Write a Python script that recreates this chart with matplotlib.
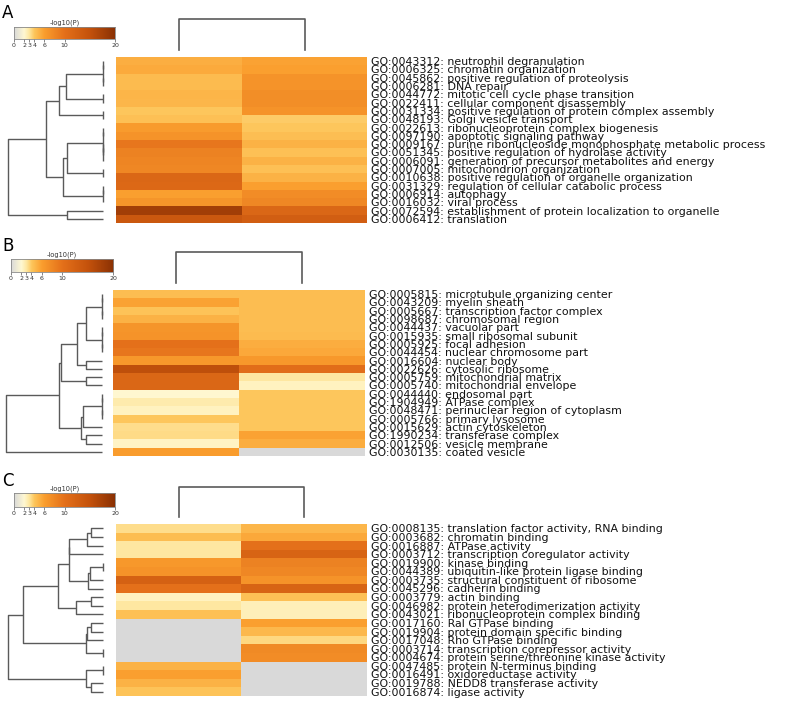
import matplotlib
matplotlib.use("Agg")
import matplotlib.pyplot as plt
import numpy as np
from matplotlib.colors import LinearSegmentedColormap

# ---------------- data ----------------
labels_A = [
    "GO:0043312: neutrophil degranulation",
    "GO:0006325: chromatin organization",
    "GO:0045862: positive regulation of proteolysis",
    "GO:0006281: DNA repair",
    "GO:0044772: mitotic cell cycle phase transition",
    "GO:0022411: cellular component disassembly",
    "GO:0031334: positive regulation of protein complex assembly",
    "GO:0048193: Golgi vesicle transport",
    "GO:0022613: ribonucleoprotein complex biogenesis",
    "GO:0097190: apoptotic signaling pathway",
    "GO:0009167: purine ribonucleoside monophosphate metabolic process",
    "GO:0051345: positive regulation of hydrolase activity",
    "GO:0006091: generation of precursor metabolites and energy",
    "GO:0007005: mitochondrion organization",
    "GO:0010638: positive regulation of organelle organization",
    "GO:0031329: regulation of cellular catabolic process",
    "GO:0006914: autophagy",
    "GO:0016032: viral process",
    "GO:0072594: establishment of protein localization to organelle",
    "GO:0006412: translation",
]
left_A = [5.2, 5.4, 4.6, 4.6, 4.9, 4.8, 4.0, 4.3, 6.3, 7.0,
          9.5, 8.5, 8.2, 8.0, 11.5, 11.3, 6.0, 6.8, 18.0, 14.0]
right_A = [5.8, 6.0, 7.0, 7.0, 7.4, 7.4, 7.0, 3.9, 4.0, 4.4,
           5.0, 4.3, 5.0, 4.3, 5.0, 6.0, 7.5, 8.0, 11.5, 13.0]

labels_B = [
    "GO:0005815: microtubule organizing center",
    "GO:0043209: myelin sheath",
    "GO:0005667: transcription factor complex",
    "GO:0098687: chromosomal region",
    "GO:0044437: vacuolar part",
    "GO:0015935: small ribosomal subunit",
    "GO:0005925: focal adhesion",
    "GO:0044454: nuclear chromosome part",
    "GO:0016604: nuclear body",
    "GO:0022626: cytosolic ribosome",
    "GO:0005759: mitochondrial matrix",
    "GO:0005740: mitochondrial envelope",
    "GO:0044440: endosomal part",
    "GO:1904949: ATPase complex",
    "GO:0048471: perinuclear region of cytoplasm",
    "GO:0005766: primary lysosome",
    "GO:0015629: actin cytoskeleton",
    "GO:1990234: transferase complex",
    "GO:0012506: vesicle membrane",
    "GO:0030135: coated vesicle",
]
left_B = [4.5, 5.8, 4.2, 5.0, 6.8, 7.0, 10.0, 9.5, 6.5, 15.5,
          11.5, 11.5, 2.1, 2.8, 2.4, 4.0, 3.3, 3.4, 2.3, 6.2]
right_B = [4.5, 4.5, 4.5, 4.5, 4.5, 4.6, 5.3, 5.5, 6.5, 10.5,
           3.0, 2.4, 4.0, 4.0, 4.0, 4.0, 4.0, 5.8, 5.3, 0.0]

labels_C = [
    "GO:0008135: translation factor activity, RNA binding",
    "GO:0003682: chromatin binding",
    "GO:0016887: ATPase activity",
    "GO:0003712: transcription coregulator activity",
    "GO:0019900: kinase binding",
    "GO:0044389: ubiquitin-like protein ligase binding",
    "GO:0003735: structural constituent of ribosome",
    "GO:0045296: cadherin binding",
    "GO:0003779: actin binding",
    "GO:0046982: protein heterodimerization activity",
    "GO:0043021: ribonucleoprotein complex binding",
    "GO:0017160: Ral GTPase binding",
    "GO:0019904: protein domain specific binding",
    "GO:0017048: Rho GTPase binding",
    "GO:0003714: transcription corepressor activity",
    "GO:0004674: protein serine/threonine kinase activity",
    "GO:0047485: protein N-terminus binding",
    "GO:0016491: oxidoreductase activity",
    "GO:0019788: NEDD8 transferase activity",
    "GO:0016874: ligase activity",
]
left_C = [3.3, 4.5, 3.0, 3.0, 6.5, 7.0, 12.5, 10.0, 2.4, 3.0,
          4.3, 0.0, 0.0, 0.0, 0.0, 0.0, 5.0, 6.0, 5.0, 4.2]
right_C = [4.8, 5.5, 10.0, 12.0, 8.5, 8.0, 7.0, 12.0, 4.3, 2.5,
           2.5, 6.0, 4.7, 3.5, 7.8, 7.5, 0.0, 0.0, 0.0, 0.0]


def N(a, b, h):
    return (a, b, h)


# row dendrograms: leaf = row index, node = (left, right, merge height)
tree_A = N(
    N(
        N(N(N(N(0, 1, 0), N(2, 3, 0), 0), N(4, 5, 0), 37), N(6, 7, 0), 44),
        N(N(N(N(8, 9, 0), N(N(10, 11, 0), 12, 0), 0), N(13, 14, 0), 36),
          N(N(15, 16, 0), 17, 0), 40),
        57),
    N(18, 19, 36),
    95)

tree_B = N(
    N(
        N(N(N(N(N(0, 1, 0), N(2, 3, 0), 0), N(N(4, 5, 0), N(6, 7, 0), 0), 16),
            N(8, 9, 16), 25),
          N(10, 11, 16), 41),
        N(N(N(N(12, 13, 0), N(14, 15, 0), 0), 16, 19), N(17, 18, 16), 21),
        43),
    19,
    96)

tree_C = N(
    N(
        N(
            N(N(N(N(0, 1, 12), 2, 16), 3, 34),
              N(N(N(4, 5, 0), 6, 13), 7, 15), 34),
            N(N(8, 9, 12), 10, 27),
            45),
        N(N(N(11, 12, 12), 13, 16), N(14, 15, 0), 17),
        80),
    N(N(16, 17, 0), N(18, 19, 12), 17),
    95)

col_merge_height = 1.0

tick_vals = [0, 2, 3, 4, 6, 10, 20]

# ---------------- styling ----------------
W, H = 800, 701
fig = plt.figure(figsize=(W / 100, H / 100), dpi=100)
fig.patch.set_facecolor("white")

cmap = LinearSegmentedColormap.from_list(
    "metascape",
    [(0.00, "#d9d9d9"), (0.10, "#fff8d2"), (0.15, "#fee7a0"),
     (0.20, "#fdc65c"), (0.30, "#fa9e2e"), (0.50, "#e4701a"),
     (0.75, "#c4520c"), (1.00, "#8a3104")])

LINE = "#5a5a5a"


def add_px_axes(x0, y0, x1, y1):
    return fig.add_axes([x0 / W, 1 - y1 / H, (x1 - x0) / W, (y1 - y0) / H])


def tree_coords(node, segs):
    if isinstance(node, int):
        return node + 0.5, 0.0
    a, b, h = node
    ya, ha = tree_coords(a, segs)
    yb, hb = tree_coords(b, segs)
    segs.append(([ha, h, h, hb], [ya, ya, yb, yb]))
    return (ya + yb) / 2, h


def draw_panel(letter, labels, left, right, tree, hm, split, dend_x, topd, cb, letter_xy):
    n = len(labels)
    data = np.column_stack([left, right])
    # heatmap
    ax = add_px_axes(*hm)
    xe = np.array([0, (split - hm[0]) / (hm[2] - hm[0]), 1.0]) * 2
    ax.pcolormesh(xe, np.arange(n + 1), data, cmap=cmap, vmin=0, vmax=20,
                  shading="flat", edgecolors="none")
    ax.set_xlim(0, 2)
    ax.set_ylim(n, 0)
    ax.set_xticks([])
    ax.yaxis.tick_right()
    ax.set_yticks(np.arange(n) + 0.5)
    ax.set_yticklabels(labels, fontsize=7.9, color="#111111")
    ax.tick_params(axis="y", length=0, pad=3)
    for s in ax.spines.values():
        s.set_visible(False)

    # row dendrogram
    dax = add_px_axes(dend_x[0], hm[1], dend_x[1], hm[3])
    segs = []
    tree_coords(tree, segs)
    for xs, ys in segs:
        dax.plot(xs, ys, color=LINE, lw=1.0, solid_capstyle="butt", clip_on=False)
    dax.set_xlim(tree[2], 0)
    dax.set_ylim(n, 0)
    dax.axis("off")

    # column dendrogram
    tax = add_px_axes(hm[0], topd[0], hm[2], topd[1])
    c0 = (xe[0] + xe[1]) / 2
    c1 = (xe[1] + xe[2]) / 2
    tax.plot([c0, c0, c1, c1], [0, col_merge_height, col_merge_height, 0],
             color=LINE, lw=1.2, clip_on=False)
    tax.set_xlim(0, 2)
    tax.set_ylim(0, col_merge_height)
    tax.axis("off")

    # colorbar
    cax = add_px_axes(*cb)
    grad = np.linspace(0, 20, 256)[None, :]
    cax.imshow(grad, cmap=cmap, vmin=0, vmax=20, aspect="auto",
               extent=[0, 20, 0, 1])
    cax.set_xlim(0, 20)
    cax.set_yticks([])
    cax.set_xticks(tick_vals)
    cax.set_xticklabels([str(t) for t in tick_vals], fontsize=4.5, color="#333333")
    cax.tick_params(axis="x", length=2, width=0.5, pad=1, colors="#555555",
                    labelcolor="#333333")
    for s in cax.spines.values():
        s.set_edgecolor("#888888")
        s.set_linewidth(0.6)
    cax.set_title("-log10(P)", fontsize=4.8, pad=1.5, color="#333333")

    fig.text(letter_xy[0] / W, 1 - letter_xy[1] / H, letter, fontsize=12,
             ha="left", va="top", color="black")


draw_panel("A", labels_A, left_A, right_A, tree_A,
           hm=(116, 57, 367, 223), split=242, dend_x=(8, 103),
           topd=(19, 50), cb=(14, 27, 115, 39), letter_xy=(2, 4))
draw_panel("B", labels_B, left_B, right_B, tree_B,
           hm=(113, 290, 365, 456), split=239, dend_x=(6, 102),
           topd=(252, 283), cb=(11, 259, 113, 272), letter_xy=(2, 237))
draw_panel("C", labels_C, left_C, right_C, tree_C,
           hm=(116, 524, 367, 696), split=241, dend_x=(8, 103),
           topd=(487, 517), cb=(14, 493, 115, 507), letter_xy=(2, 472))

fig.savefig("out.png", dpi=100, facecolor="white")
